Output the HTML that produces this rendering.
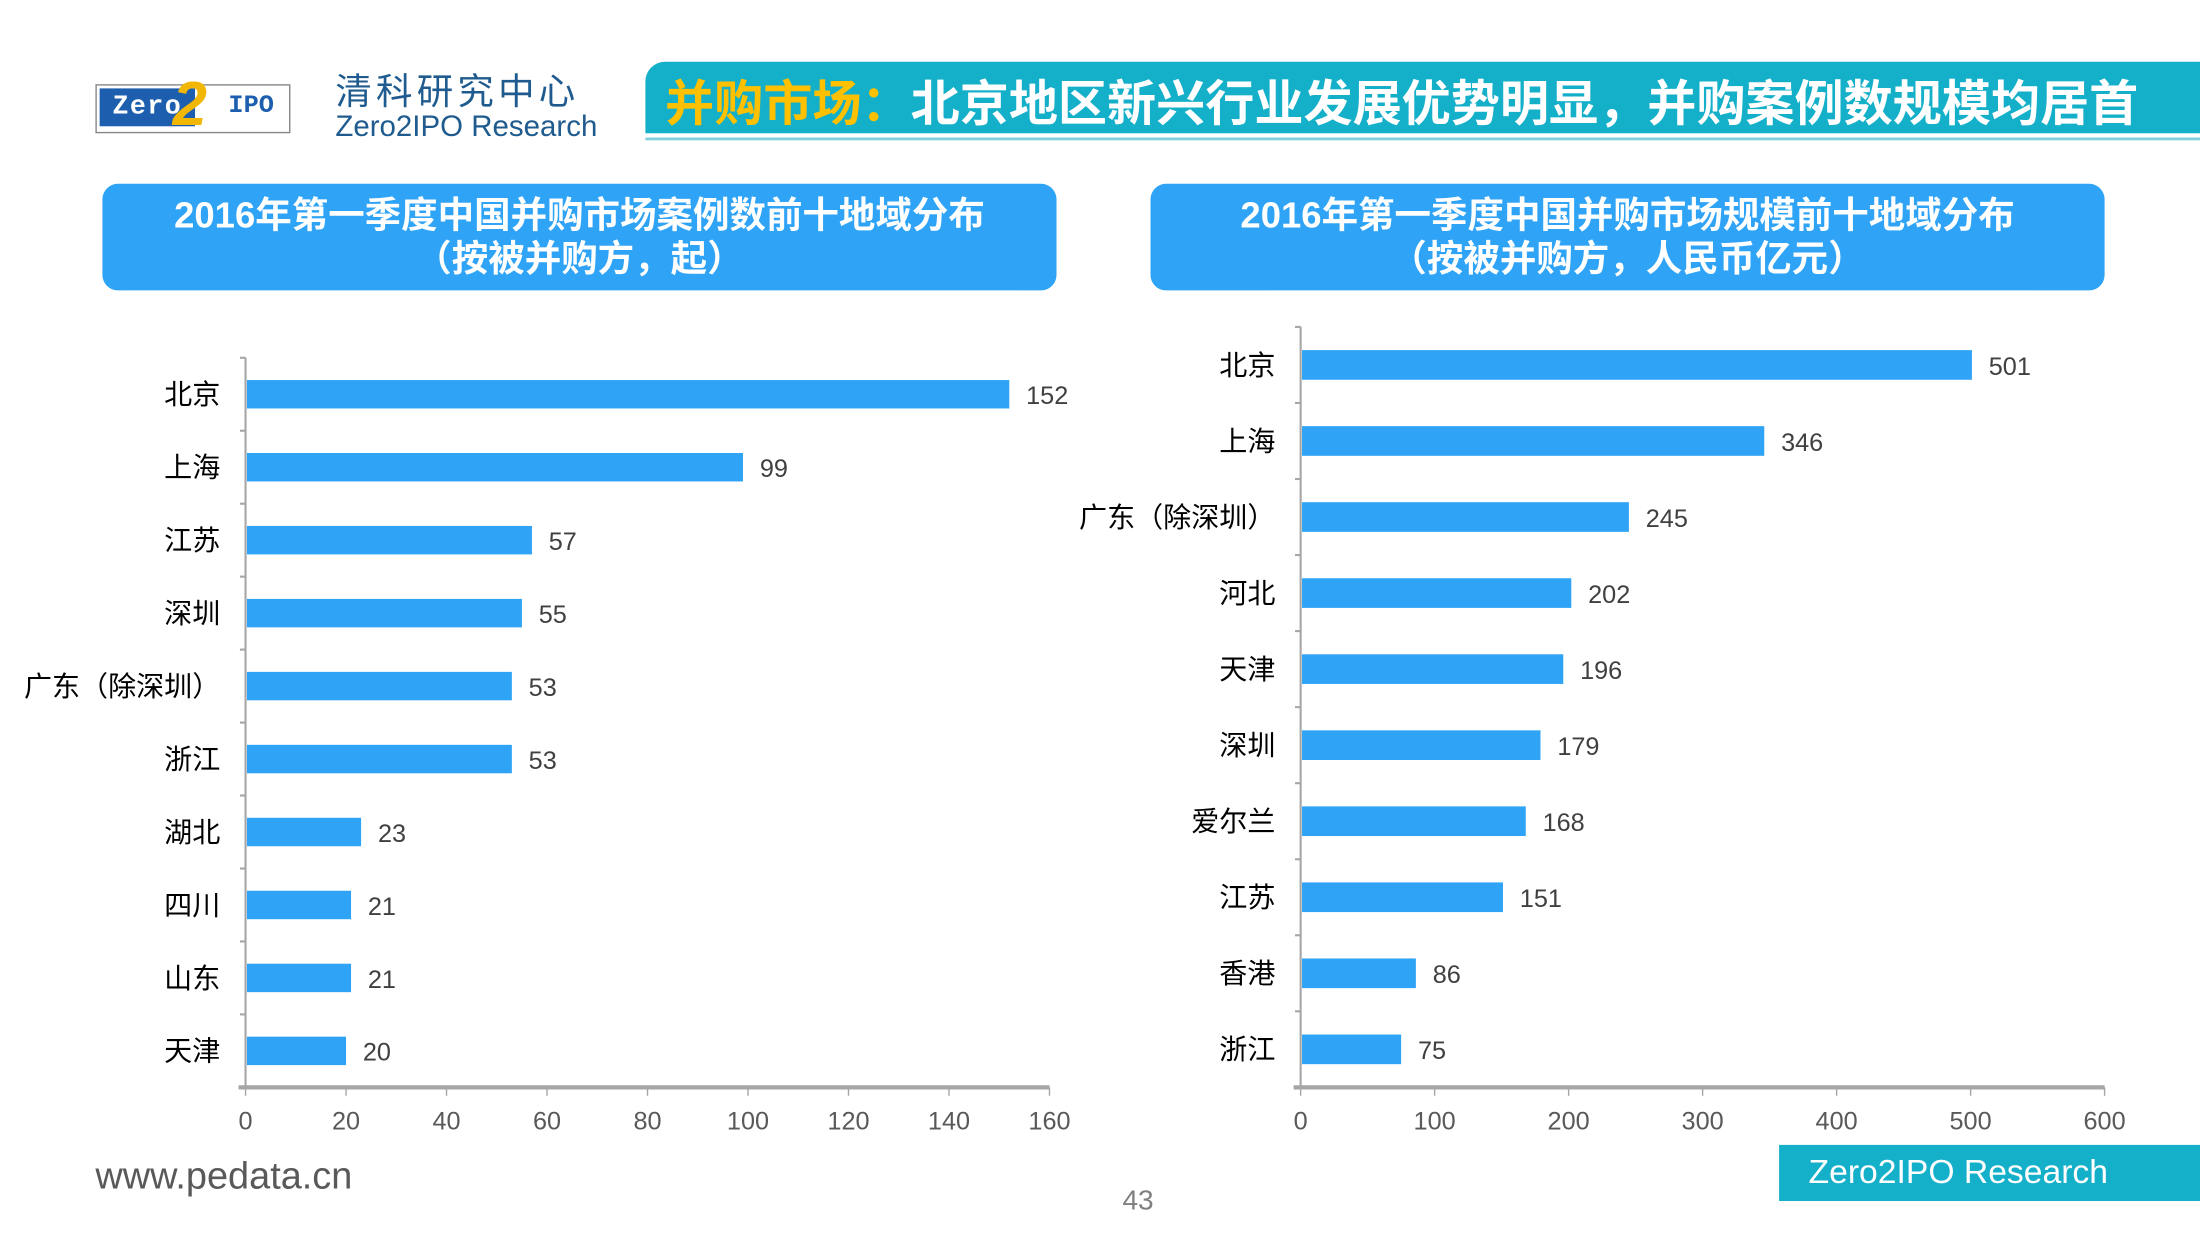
<!DOCTYPE html>
<html><head><meta charset="utf-8">
<style>
html,body{margin:0;padding:0;background:#fff;width:2200px;height:1238px;overflow:hidden}
#stage{position:absolute;left:0;top:0;width:1568px;height:882px;transform:scale(1.40306);transform-origin:0 0;font-family:"Liberation Sans","Noto Sans CJK SC",sans-serif}
.abs{position:absolute}
</style></head><body>
<div id="stage">
  <div class="abs" style="left:68px;top:58px;width:139px;height:40px;">
    <div class="abs" style="left:0;top:2px;width:137px;height:33px;border:1px solid #888;background:#fff"></div>
    <div class="abs" style="left:3px;top:5px;width:68px;height:27px;background:#1d5fae;color:#fff;font:bold 19px 'Liberation Mono',monospace;line-height:27px;text-align:center;letter-spacing:1px">Zero</div>
    <div class="abs" style="left:55px;top:-8px;color:#f2b705;font:bold 44px 'Liberation Sans',sans-serif;font-style:italic">2</div>
    <div class="abs" style="left:88px;top:5px;width:46px;height:27px;color:#1d5fae;font:bold 18px 'Liberation Mono',monospace;line-height:27px;text-align:center">IPO</div>
  </div>
  <div class="abs" style="left:239px;top:45px;font-size:26px;color:#1f5b8f;letter-spacing:3px">清科研究中心</div>
  <div class="abs" style="left:239px;top:79px;font-size:21px;color:#1f5b8f">Zero2IPO Research</div>
  <div class="abs" style="left:460px;top:44px;width:1108px;height:51px;background:#14afc9;border-top-left-radius:14px"></div>
  <div class="abs" style="left:460px;top:98px;width:1108px;height:2px;background:#7fcfdc"></div>
  <div class="abs" style="left:474px;top:46px;font-weight:bold;font-size:35px;letter-spacing:0;color:#fff;white-space:nowrap"><span style="color:#ffc000">并购市场：</span>北京地区新兴行业发展优势明显，并购案例数规模均居首</div>

  <div class="abs" style="left:73px;top:131px;width:680px;height:76px;background:#2fa3f5;border-radius:11px;color:#fff;font-weight:bold;font-size:26px;text-align:center;line-height:31px;padding-top:7px;box-sizing:border-box;white-space:nowrap">2016年第一季度中国并购市场案例数前十地域分布<br>（按被并购方，起）</div>
  <div class="abs" style="left:820px;top:131px;width:680px;height:76px;background:#2fa3f5;border-radius:11px;color:#fff;font-weight:bold;font-size:26px;text-align:center;line-height:31px;padding-top:7px;box-sizing:border-box;white-space:nowrap">2016年第一季度中国并购市场规模前十地域分布<br>（按被并购方，人民币亿元）</div>

  <svg id="charts" class="abs" style="left:0;top:0" width="1568" height="882"></svg>

  <div class="abs" style="left:68px;top:823px;font-size:27px;color:#595959">www.pedata.cn</div>
  <div class="abs" style="left:800px;top:845px;font-size:20px;color:#7f7f7f">43</div>
  <div class="abs" style="left:1268px;top:816px;width:300px;height:40px;background:#14afc9;color:#fff;font-size:24px;line-height:40px;padding-left:21px;box-sizing:border-box">Zero2IPO Research</div>
</div>
<script>
const leftCats=["北京","上海","江苏","深圳","广东（除深圳）","浙江","湖北","四川","山东","天津"];
const leftVals=[152,99,57,55,53,53,23,21,21,20];
const leftTicks=[0,20,40,60,80,100,120,140,160];
const rightCats=["北京","上海","广东（除深圳）","河北","天津","深圳","爱尔兰","江苏","香港","浙江"];
const rightVals=[501,346,245,202,196,179,168,151,86,75];
const rightTicks=[0,100,200,300,400,500,600];

const svg=document.getElementById('charts');
const NS='http://www.w3.org/2000/svg';
function mk(tag,attrs,txt){const e=document.createElementNS(NS,tag);for(const k in attrs)e.setAttribute(k,attrs[k]);if(txt!==undefined)e.textContent=txt;svg.appendChild(e);return e;}

function chart(cats,vals,ticks,x0,x1,yTop,yBot,prefix){
  const max=ticks[ticks.length-1];
  const sx=v=>x0+(v/max)*(x1-x0);
  const n=cats.length, band=(yBot-yTop)/n;
  const sy=i=>yTop+band*(i+0.5);
  const bh=band*0.39;
  let a=mk('line',{x1:x0,y1:yTop,x2:x0,y2:yBot,stroke:'#a6a6a6','stroke-width':1.5});
  
  
  for(let i=0;i<=n;i++){const y=yTop+band*i;mk('line',{x1:x0-4,y1:y,x2:x0,y2:y,stroke:'#a6a6a6','stroke-width':1.5});}
  let xa=mk('line',{x1:x0-5,y1:yBot,x2:x1,y2:yBot,stroke:'#a6a6a6','stroke-width':3});
  
  
  ticks.forEach(t=>{
    const x=sx(t);
    mk('line',{x1:x,y1:yBot,x2:x,y2:yBot+6,stroke:'#a6a6a6','stroke-width':1});
    const tl=mk('text',{x:x,y:yBot+30,'text-anchor':'middle','font-size':18,fill:'#595959'},t);
    
    
  });
  cats.forEach((c,i)=>{
    const y=sy(i);
    const r=mk('rect',{x:x0+1,y:y-bh/2,width:sx(vals[i])-x0-1,height:bh,fill:'#2fa3f5'});
    
    
    const cl=mk('text',{x:x0-18,y:y+7,'text-anchor':'end','font-size':20,fill:'#000'},c);
    
    
    const vl=mk('text',{x:sx(vals[i])+12,y:y+7,'font-size':18,fill:'#404040'},vals[i]);
    
    
  });
}
svg.setAttribute('font-family','"Liberation Sans","Noto Sans CJK SC",sans-serif');
chart(leftCats,leftVals,leftTicks,175,748,255,775,'left');
chart(rightCats,rightVals,rightTicks,927,1500,233,775,'right');
</script>
</body></html>
